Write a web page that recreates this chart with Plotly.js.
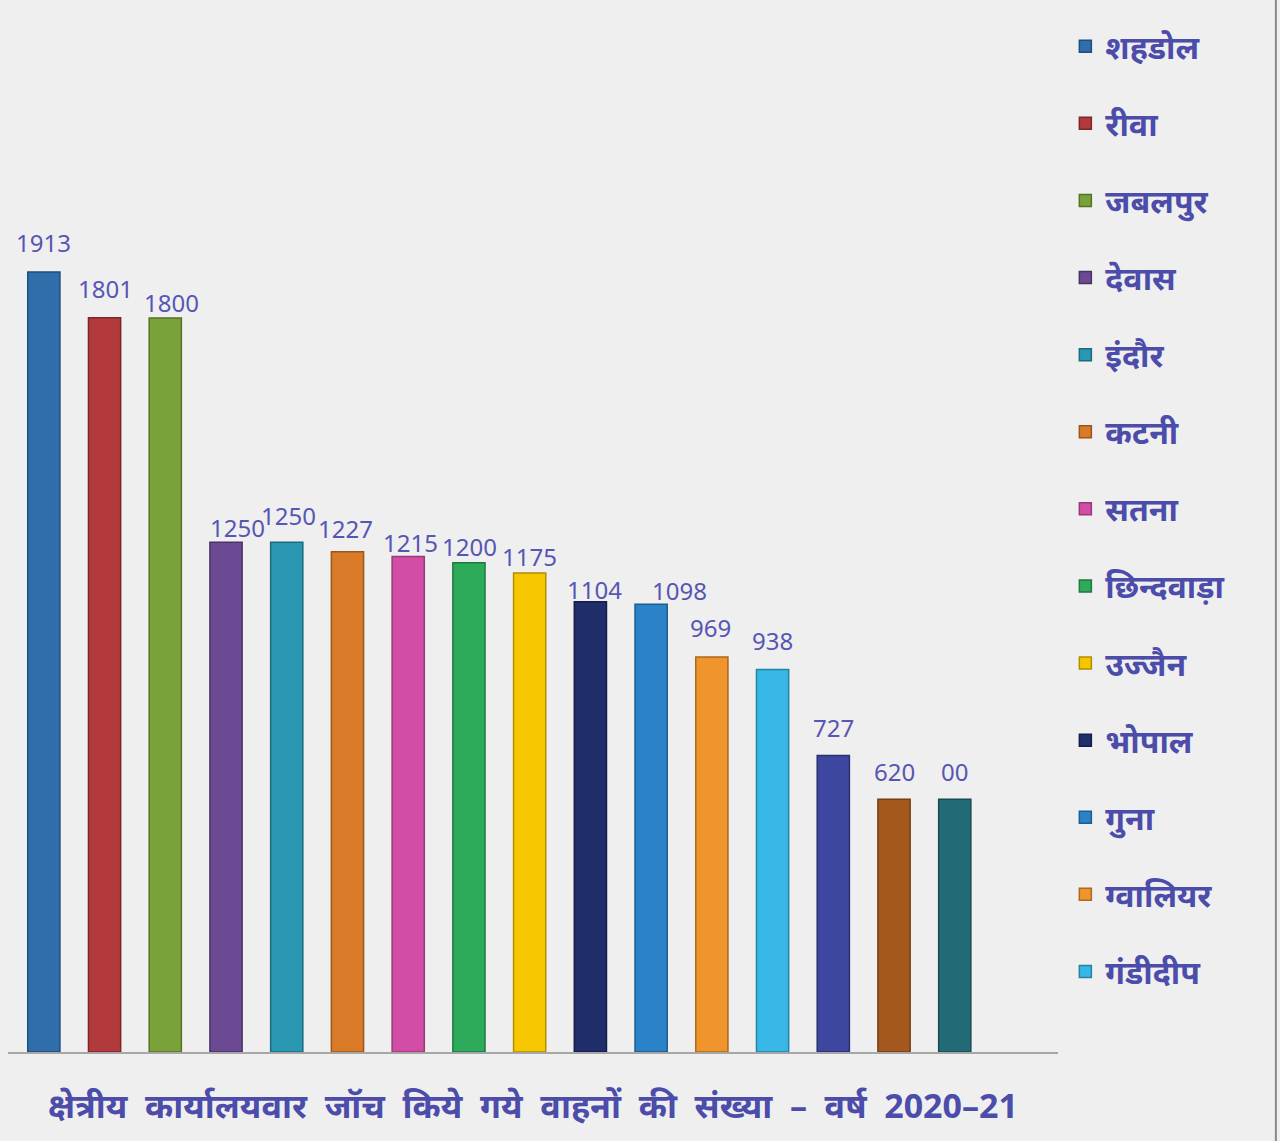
<!DOCTYPE html>
<html>
<head>
<meta charset="utf-8">
<script src="https://cdn.plot.ly/plotly-3.0.1.min.js"></script>
<style>
  html, body { margin: 0; padding: 0; background: #efefef; }
  #chart { width: 1280px; height: 1141px; }
</style>
</head>
<body>
<div id="chart"></div>
<script>
// Office names (legend shows first 13; last three bars have no legend entry in the source)
const offices = ["शहडोल", "रीवा", "जबलपुर", "देवास", "इंदौर", "कटनी", "सतना", "छिन्दवाड़ा", "उज्जैन", "भोपाल", "गुना", "ग्वालियर", "गंडीदीप", "", "", ""];
// Number of vehicles checked (bar heights)
const vehicles = [1913, 1801, 1800, 1250, 1250, 1227, 1215, 1200, 1175, 1104, 1098, 969, 938, 727, 620, 620];
// Data labels as printed
const labels = ["1913", "1801", "1800", "1250", "1250", "1227", "1215", "1200", "1175", "1104", "1098", "969", "938", "727", "620", "00"];

// styling: colours and label nudges (pixels)
const colors = ["#2f6dab", "#b23a3c", "#7aa23a", "#6b4993", "#2a98b3", "#d97b28", "#d24ea6", "#2eab5a", "#f6c700", "#1f2d6b", "#2a82c9", "#f0942c", "#37b7e5", "#3d47a0", "#a4581d", "#236a77"];
const edge = ["#1f4d7c", "#7c2628", "#557225", "#4a3267", "#1b6b7e", "#9c561b", "#963a78", "#207a3f", "#b08f00", "#141e4a", "#1c5c8f", "#ac681e", "#2683a4", "#2a3171", "#723e14", "#184b54"];
const nudgeX = [0, 1, 6, 11, 2, -2, 2, 1, 0, 4, 28, -1, 0, 0, 0, 0];
const nudgeY = [29, 29, 16, 15, 27, 23, 14, 16, 16, 12, 14, 29, 29, 28, 28, 28];

const fontFam = "'Noto Sans', 'Noto Sans Devanagari', 'Lohit Devanagari', sans-serif";
const textBlue = "#4c4caa";

const traces = vehicles.map((v, i) => ({
  type: "bar",
  x: [i],
  y: [v],
  name: offices[i],
  marker: { color: colors[i], line: { color: edge[i], width: 1.5 } },
  width: 0.53,
  showlegend: offices[i] !== "",
  legendgroup: "g" + i,
  hoverinfo: "name+y"
}));

const annotations = vehicles.map((v, i) => ({
  x: i,
  y: v,
  xref: "x",
  yref: "y",
  text: labels[i],
  showarrow: false,
  xanchor: "center",
  yanchor: "middle",
  xshift: nudgeX[i],
  yshift: nudgeY[i],
  font: { family: fontFam, size: 24, color: "#5656b4" }
}));

const layout = {
  width: 1280,
  height: 1141,
  paper_bgcolor: "#efefef",
  plot_bgcolor: "rgba(0,0,0,0)",
  margin: { l: 8, r: 222, t: 0, b: 89 },
  barmode: "group",
  annotations: annotations,
  shapes: [{
    type: "line", xref: "paper", yref: "paper",
    x0: 1.2075, x1: 1.2075, y0: -0.085, y1: 1.0,
    line: { color: "#8a8a8a", width: 2 }
  }],
  xaxis: {
    range: [-0.59, 16.7],
    showticklabels: false,
    ticks: "",
    showgrid: false,
    zeroline: false,
    showline: true,
    linecolor: "#a7a7a7",
    linewidth: 2,
    title: {
      text: "<b>क्षेत्रीय&nbsp; कार्यालयवार&nbsp; जॉच&nbsp; किये&nbsp; गये&nbsp; वाहनों&nbsp; की&nbsp; संख्या&nbsp; –&nbsp; वर्ष&nbsp; 2020–21</b>",
      font: { family: fontFam, size: 34, color: textBlue },
      standoff: 41
    }
  },
  yaxis: {
    range: [0, 2580],
    visible: false,
    showgrid: false,
    zeroline: false
  },
  legend: {
    x: 1.007,
    xanchor: "left",
    y: 0.982,
    yanchor: "top",
    bgcolor: "rgba(0,0,0,0)",
    font: { family: fontFam, size: 32, color: textBlue, weight: "bold" },
    tracegroupgap: 32.5,
    itemwidth: 30
  },
  showlegend: true
};

Plotly.newPlot("chart", traces, layout, { displayModeBar: false, staticPlot: true });
</script>
</body>
</html>
